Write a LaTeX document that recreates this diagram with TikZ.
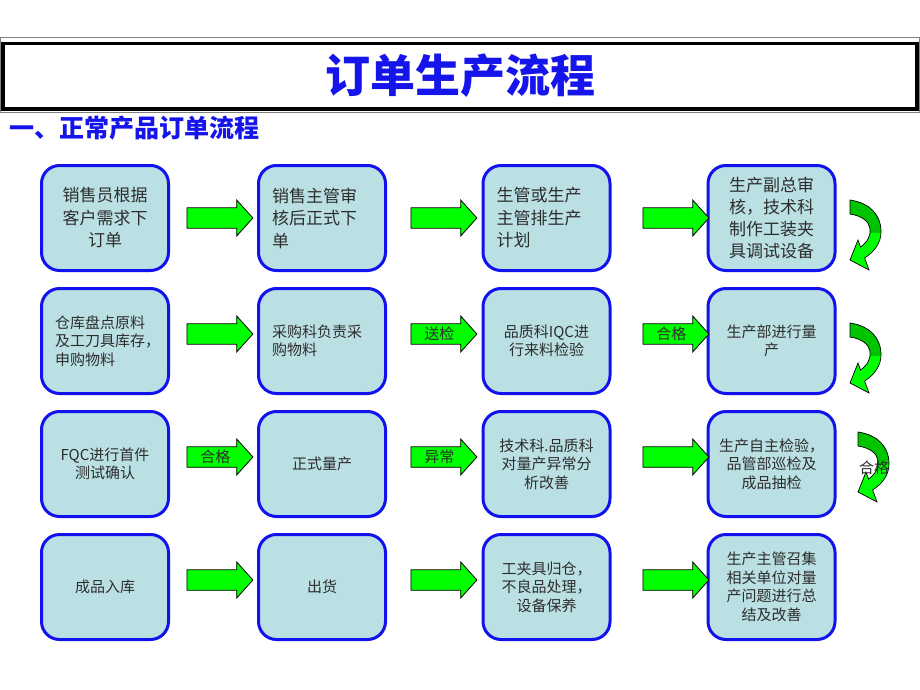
\documentclass[tikz,border=0pt]{standalone}
\usepackage{fontspec}
\setmainfont{Liberation Sans}
\newfontfamily\cjk{Noto Sans CJK SC}
\usepackage{tikz}
\usetikzlibrary{shapes.arrows,positioning}

\definecolor{boxfill}{RGB}{187,224,228}
\definecolor{boxline}{RGB}{18,18,238}
\definecolor{arrgreen}{RGB}{0,255,0}
\definecolor{arrdark}{RGB}{0,196,0}
\definecolor{titleblue}{RGB}{20,20,235}
\definecolor{txtgrey}{RGB}{45,45,45}

\tikzset{
  stepbox/.style={draw=boxline, line width=3pt, fill=boxfill, rounded corners=18pt,
    minimum width=127pt, minimum height=105pt, align=center, text=txtgrey,
    font=\cjk\fontsize{15}{18.5}\selectfont},
  bigtext/.style={font=\cjk\fontsize{17}{22.5}\selectfont},
  lefttext/.style={text width=100pt, align=left},
  greenarr/.style={single arrow, draw=black, line width=0.8pt, fill=arrgreen,
    minimum height=66pt, minimum width=36pt, single arrow tip angle=96,
    text height=13pt, text depth=3pt, inner ysep=1pt, inner xsep=0pt,
    text=txtgrey, font=\cjk\fontsize{15}{15}\selectfont},
  bendarrow/.pic={
    \begin{scope}
      \clip (0,0) .. controls (20,-3) and (31,-15) .. (31,-32)
        .. controls (31,-43) and (24,-52) .. (14.6,-58) -- (19,-70) -- (0,-60)
        -- (8,-40) -- (10.5,-47) .. controls (24,-38) and (26,-18) .. (0,-14) -- cycle;
      \fill[arrgreen] (-2,2) rectangle (36,-72);
      \fill[arrdark] (-2,2) rectangle (36,-33);
    \end{scope}
    \draw[line width=0.7pt] (0,0) .. controls (20,-3) and (31,-15) .. (31,-32)
      .. controls (31,-43) and (24,-52) .. (14.6,-58) -- (19,-70) -- (0,-60)
      -- (8,-40) -- (10.5,-47) .. controls (24,-38) and (26,-18) .. (0,-14) -- cycle;
  }
}

\begin{document}
\begin{tikzpicture}[x=1pt, y=1pt]
  \fill[white] (0,0) rectangle (920,-690);
  \useasboundingbox (0,0) rectangle (920,-690);

  % title frame
  \draw[gray, line width=1.2pt] (0.7,-37.5) rectangle (919.3,-112.7);
  \draw[black, line width=3.5pt] (3,-43.7) rectangle (917,-109);
  \node[text=titleblue, font=\cjk\bfseries\fontsize{45}{50}\selectfont] (title) at (460,-76) {订单生产流程};
  \node[text=titleblue, anchor=west, inner sep=0pt, font=\cjk\bfseries\fontsize{25}{28}\selectfont] (subtitle) at (9,-128) {一、正常产品订单流程};

  % row 1
  \node[stepbox, bigtext] (b11) at (105,-218) {销售员根据\\客户需求下\\订单};
  \node[stepbox, bigtext, lefttext] (b12) at (322,-218) {销售主管审\\核后正式下\\单};
  \node[stepbox, bigtext, lefttext] (b13) at (546.5,-218) {生管或生产\\主管排生产\\计划};
  \node[stepbox, font=\cjk\fontsize{17}{22}\selectfont] (b14) at (771.5,-218) {生产副总审\\核，技术科\\制作工装夹\\具调试设备};

  % row 2
  \node[stepbox, lefttext] (b21) at (105,-341) {仓库盘点原料\\及工刀具库存，\\申购物料};
  \node[stepbox, lefttext] (b22) at (322,-341) {采购科负责采\\购物料};
  \node[stepbox] (b23) at (546.5,-341) {品质科IQC进\\行来料检验};
  \node[stepbox] (b24) at (771.5,-341) {生产部进行量\\产};

  % row 3
  \node[stepbox] (b31) at (105,-464) {FQC进行首件\\测试确认};
  \node[stepbox] (b32) at (322,-464) {正式量产};
  \node[stepbox] (b33) at (546.5,-464) {技术科.品质科\\对量产异常分\\析改善};
  \node[stepbox] (b34) at (771.5,-464) {生产自主检验，\\品管部巡检及\\成品抽检};

  % row 4
  \node[stepbox] (b41) at (105,-587) {成品入库};
  \node[stepbox] (b42) at (322,-587) {出货};
  \node[stepbox] (b43) at (546.5,-587) {工夹具归仓，\\不良品处理，\\设备保养};
  \node[stepbox] (b44) at (771.5,-587) {生产主管召集\\相关单位对量\\产问题进行总\\结及改善};

  % green arrows
  \node[greenarr, right=16.5pt of b11.east, anchor=tail] (a11) {};
  \node[greenarr, right=23.5pt of b12.east, anchor=tail] (a12) {};
  \node[greenarr, right=31pt of b13.east, anchor=tail] (a13) {};

  \node[greenarr, right=16.5pt of b21.east, anchor=tail, yshift=7pt] (a21) {};
  \node[greenarr, right=23.5pt of b22.east, anchor=tail, yshift=7pt] (a22) {送检};
  \node[greenarr, right=31pt of b23.east, anchor=tail, yshift=7pt] (a23) {合格};

  \node[greenarr, right=16.5pt of b31.east, anchor=tail, yshift=7pt] (a31) {合格};
  \node[greenarr, right=23.5pt of b32.east, anchor=tail, yshift=7pt] (a32) {异常};
  \node[greenarr, right=31pt of b33.east, anchor=tail, yshift=7pt] (a33) {};

  \node[greenarr, right=16.5pt of b41.east, anchor=tail, yshift=7pt] (a41) {};
  \node[greenarr, right=23.5pt of b42.east, anchor=tail, yshift=7pt] (a42) {};
  \node[greenarr, right=31pt of b43.east, anchor=tail, yshift=7pt] (a43) {};

  % turning arrows on the right
  \pic at (850,-200) {bendarrow};
  \pic at (850,-323) {bendarrow};
  \pic at (858,-432) {bendarrow};
  \node[text=txtgrey, font=\cjk\fontsize{15}{15}\selectfont] (t34) at (874,-468) {合格};
\end{tikzpicture}
\end{document}
